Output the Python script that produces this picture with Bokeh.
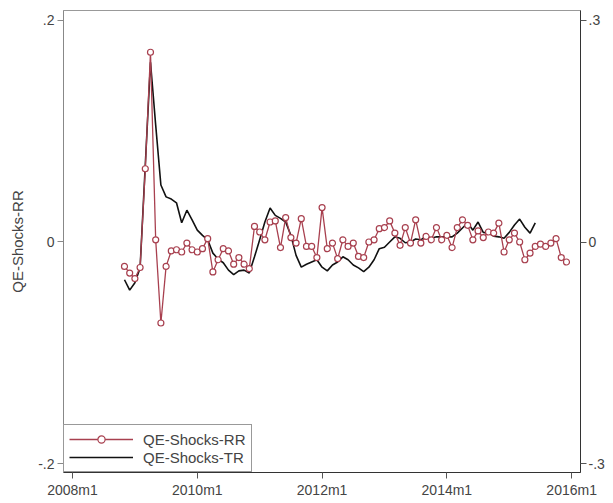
from bokeh.plotting import figure
from bokeh.models import (Range1d, LinearAxis, FixedTicker, CustomJSTickFormatter,
                          Legend, LegendItem, ColumnDataSource)
from bokeh.embed import file_html
from bokeh.resources import INLINE

# ---- data (months counted from 2008m1) ----
x_tick_labels = ["2008m1", "2010m1", "2012m1", "2014m1", "2016m1"]
x_tick_months = [0, 24, 48, 72, 96]
left_ticks = [-0.2, 0.0, 0.2]
right_ticks = [-0.3, 0.0, 0.3]

rr_start = 10   # 2008m11
rr_values = [
    -0.022, -0.028, -0.033, -0.023, 0.066, 0.171, 0.002, -0.073, -0.022, -0.008,
    -0.007, -0.009, -0.001, -0.007, -0.009, -0.006, 0.003, -0.027, -0.016, -0.006,
    -0.008, -0.020, -0.014, -0.020, -0.024, 0.014, 0.009, 0.002, 0.018, 0.019,
    -0.005, 0.022, 0.004, -0.001, 0.021, -0.004, -0.004, -0.014, 0.031, -0.006,
    -0.001, -0.015, 0.002, -0.004, -0.001, -0.013, -0.014, 0.000, 0.002, 0.012,
    0.013, 0.019, 0.008, -0.003, 0.013, -0.001, 0.020, -0.001, 0.005, 0.002,
    0.013, 0.002, 0.006, -0.005, 0.013, 0.020, 0.015, 0.002, 0.010, 0.004,
    0.009, 0.008, 0.017, -0.009, 0.002, 0.008, 0.000, -0.016, -0.010, -0.004,
    -0.002, -0.004, -0.001, 0.003, -0.014, -0.018,
]

tr_start = 10   # 2008m11
tr_values = [
    -0.051, -0.065, -0.055, -0.035, 0.104, 0.243, 0.158, 0.077, 0.061, 0.058,
    0.053, 0.026, 0.043, 0.030, 0.016, 0.009, 0.003, -0.015, -0.023, -0.028,
    -0.038, -0.044, -0.039, -0.038, -0.042, -0.020, 0.003, 0.027, 0.046, 0.036,
    0.032, 0.027, 0.009, -0.018, -0.034, -0.030, -0.027, -0.024, -0.034, -0.039,
    -0.031, -0.027, -0.020, -0.024, -0.031, -0.035, -0.040, -0.034, -0.024, -0.009,
    -0.007, 0.000, 0.007, 0.005, -0.001, 0.000, 0.004, 0.003, 0.008, 0.005,
    0.007, 0.007, 0.007, 0.007, 0.012, 0.019, 0.026, 0.016, 0.027, 0.013,
    0.012, 0.008, 0.007, 0.005, 0.013, 0.023, 0.031, 0.020, 0.012, 0.026,
]

rr_x = [rr_start + i for i in range(len(rr_values))]
tr_x = [tr_start + i for i in range(len(tr_values))]

FONT = "Liberation Sans"
RED = "#a8404f"

p = figure(width=609, height=500, output_backend="svg", toolbar_location=None,
           x_range=Range1d(-1.73, 97.7), y_range=Range1d(-0.2077, 0.2086),
           min_border_left=63, min_border_right=29, min_border_top=10,
           min_border_bottom=27)
p.extra_y_ranges = {"tr": Range1d(-0.3115, 0.3129)}
p.xgrid.visible = False
p.ygrid.visible = False
p.outline_line_color = "#999999"
p.background_fill_color = "white"
p.border_fill_color = "white"

fmt = CustomJSTickFormatter(code="""
    if (Math.abs(tick) < 1e-9) { return "0"; }
    return tick.toFixed(1).replace("0.", ".");
""")

# left axis
ya = p.yaxis[0]
ya.ticker = FixedTicker(ticks=left_ticks)
ya.formatter = fmt
ya.axis_label = "QE-Shocks-RR"
ya.axis_label_text_font = FONT
ya.axis_label_text_font_size = "15px"
ya.axis_label_text_font_style = "normal"
ya.axis_label_standoff = 9
ya.major_label_text_font = FONT
ya.major_label_text_font_size = "14px"
ya.major_label_orientation = "horizontal"
ya.axis_line_color = "#888888"
ya.major_tick_line_color = "#888888"
ya.major_tick_out = 6
ya.major_tick_in = 0
ya.minor_tick_line_color = None
ya.major_label_standoff = 3

# right axis
ra = LinearAxis(y_range_name="tr", ticker=FixedTicker(ticks=right_ticks), formatter=fmt)
ra.major_label_text_font = FONT
ra.major_label_text_font_size = "14px"
ra.axis_line_color = "#333333"
ra.major_tick_line_color = "#555555"
ra.major_tick_out = 6
ra.major_tick_in = 0
ra.minor_tick_line_color = None
ra.major_label_standoff = 2
p.add_layout(ra, "right")

# bottom axis
xa = p.xaxis[0]
xa.ticker = FixedTicker(ticks=x_tick_months)
xa.major_label_overrides = {m: lab for m, lab in zip(x_tick_months, x_tick_labels)}
xa.major_label_text_font = FONT
xa.major_label_text_font_size = "14px"
xa.axis_line_color = "#333333"
xa.major_tick_line_color = "#555555"
xa.major_tick_out = 6
xa.major_tick_in = 0
xa.minor_tick_line_color = None
xa.major_label_standoff = 3

rr_src = ColumnDataSource(dict(x=rr_x, y=rr_values))
tr_src = ColumnDataSource(dict(x=tr_x, y=tr_values))

tr_line = p.line("x", "y", source=tr_src, y_range_name="tr", line_color="#111111",
                 line_width=1.6)
rr_line = p.line("x", "y", source=rr_src, line_color=RED, line_width=1.3)
rr_pts = p.scatter("x", "y", source=rr_src, marker="circle", size=6,
                   line_color=RED, line_width=1.2, fill_color="white")

legend = Legend(items=[
    LegendItem(label="QE-Shocks-RR", renderers=[rr_line, rr_pts]),
    LegendItem(label="QE-Shocks-TR", renderers=[tr_line]),
], location="bottom_left")
legend.margin = 0
legend.padding = 5
legend.spacing = 0
legend.glyph_width = 64
legend.glyph_height = 18
legend.label_standoff = 10
legend.label_height = 18
legend.label_text_font = FONT
legend.label_text_font_size = "15px"
legend.label_text_baseline = "middle"
legend.border_line_color = "#333333"
legend.border_line_width = 1
legend.background_fill_color = "white"
legend.background_fill_alpha = 1
p.add_layout(legend, "center")

open("out.html", "w").write(file_html(p, INLINE))
